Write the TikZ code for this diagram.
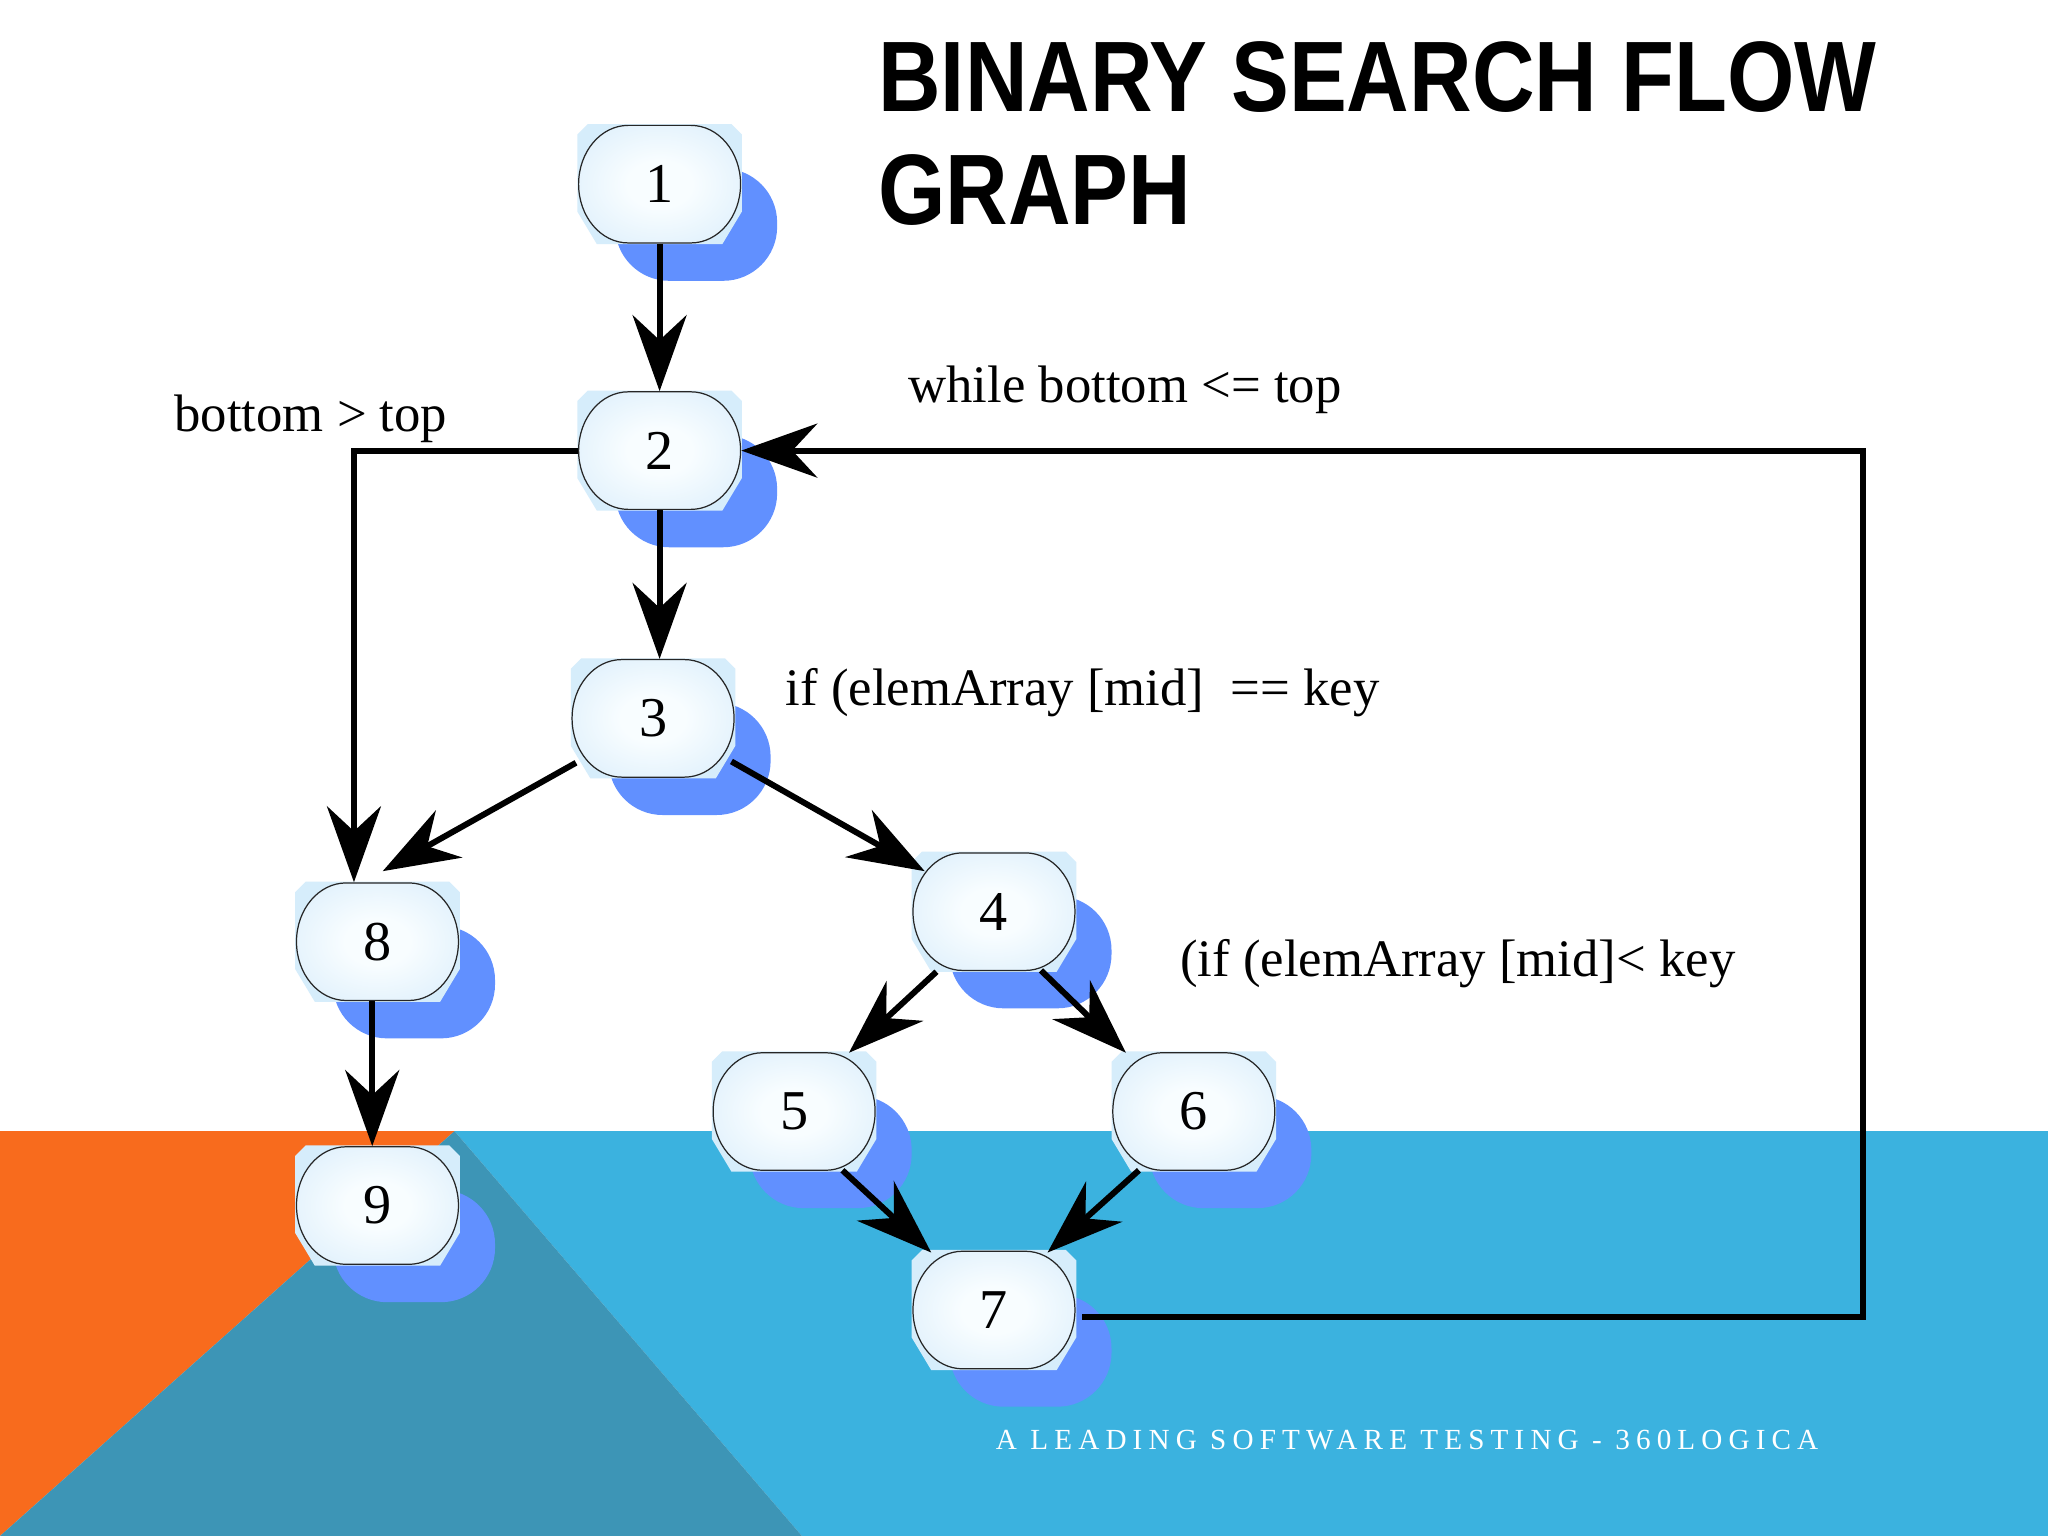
\documentclass[tikz,border=0pt]{standalone}
\usepackage{fontspec}
\setmainfont{Liberation Serif}
\setsansfont{Liberation Sans}
\usetikzlibrary{arrows.meta,calc}
\definecolor{bgorange}{HTML}{F86B1D}
\definecolor{bgblue}{HTML}{3BB2DF}
\definecolor{bgteal}{HTML}{3D95B6}
\definecolor{shadowblue}{HTML}{6190FF}
\definecolor{palebox}{HTML}{D6EDFB}
\definecolor{nodein}{HTML}{F8FDFF}
\definecolor{nodeout}{HTML}{CCE6F9}
\pgfdeclareradialshading{nodeshade}{\pgfpoint{0bp}{0bp}}{color(0bp)=(nodein); color(10bp)=(nodein); color(48bp)=(nodeout); color(70bp)=(nodeout)}
\def\nodeoutline{(-24,-45) -- (24,-45) arc[start angle=-90,end angle=0,x radius=38,y radius=45] arc[start angle=0,end angle=90,x radius=38,y radius=45] -- (-24,45) arc[start angle=90,end angle=180,x radius=38,y radius=45] arc[start angle=180,end angle=270,x radius=38,y radius=45] -- cycle}
\newcommand\flownode[3]{%
  \begin{scope}[shift={(#2)}]
    \fill[shadowblue, rounded corners=0.54cm] (-34,-12) rectangle (90,74);
    \fill[palebox] (-55,-46) -- (55,-46) -- (63,-38) -- (63,21) -- (48,46) -- (-48,46) -- (-63,21) -- (-63,-38) -- cycle;
    \shade[shading=nodeshade] \nodeoutline;
    \draw[black!85, line width=0.35pt] \nodeoutline;
  \end{scope}
  \node[nodebox] (#1) at (#2) {#3};
}
\tikzset{
  nodebox/.style={shape=rectangle, minimum width=1.62cm, minimum height=1.175cm, inner sep=0pt, font=\fontsize{16}{18}\selectfont},
  flowarrow/.style={line width=1.7pt, -{Stealth[length=0.76cm,width=0.54cm,inset=0.25cm]}},
  lbl/.style={anchor=base west, inner sep=0pt, font=\fontsize{15}{18}\selectfont},
  titletext/.style={anchor=base west, inner sep=0pt, font=\sffamily\bfseries\fontsize{28.5}{32}\selectfont}
}
\begin{document}
\begin{tikzpicture}[x=0.013061cm,y=-0.013061cm]
\useasboundingbox (0,0) rectangle (1568,1176);
% background
\fill[white] (0,0) rectangle (1568,1176);
\fill[bgblue] (348,866) -- (1568,866) -- (1568,1176) -- (614,1176) -- cycle;
\fill[bgorange] (0,866) -- (348,866) -- (0,1176) -- cycle;
\fill[bgteal] (348,866) -- (614,1176) -- (0,1176) -- cycle;
% title
\node[titletext] (title1) at (672,85) {\scalebox{0.865}[1]{BINARY SEARCH FLOW}};
\node[titletext] (title2) at (672,172) {\scalebox{0.865}[1]{GRAPH}};
% nodes
\flownode{n1}{505,141}{1}
\flownode{n2}{505,345}{2}
\flownode{n3}{500,550}{3}
\flownode{n4}{761,698}{4}
\flownode{n5}{608,851}{5}
\flownode{n6}{914,851}{6}
\flownode{n7}{761,1003}{7}
\flownode{n8}{289,721}{8}
\flownode{n9}{289,923}{9}
% edges
\draw[flowarrow] (n1.south) -- (n2.north);
\draw[flowarrow] (n2.south) -- (n2.south |- n3.north);
\draw[flowarrow] (n2.west) -| ($(n8.north)+(-18,0)$);
\draw[flowarrow] ($(n3)+(-59,34)$) -- ($(n8)+(4,-54)$);
\draw[flowarrow] ($(n3)+(60,33)$) -- ($(n4)+(-53,-31)$);
\draw[flowarrow] ($(n4)+(-44,46)$) -- ($(n5)+(42,-45)$);
\draw[flowarrow] ($(n4)+(36,45)$) -- ($(n6)+(-52,-45)$);
\draw[flowarrow] ($(n5)+(37,45)$) -- ($(n7)+(-48,-44)$);
\draw[flowarrow] ($(n6)+(-42,45)$) -- ($(n7)+(41,-44)$);
\draw[flowarrow] ($(n8.south)+(-4,0)$) -- ($(n9.north)+(-4,0)$);
\draw[flowarrow] ($(n7.east)+(5,5)$) -- ++(598,0) |- (n2.east);
% labels
\node[lbl] (lb1) at (133,330) {bottom > top};
\node[lbl] (lb2) at (695,308) {while bottom <= top};
\node[lbl] (lb3) at (601,540) {if (elemArray [mid]\ \ == key};
\node[lbl] (lb4) at (903,748) {(if (elemArray [mid]< key};
% footer
\node[anchor=base west, inner sep=0pt, text=white, font=\fontsize{8.3}{10}\selectfont\addfontfeatures{LetterSpace=21}] (footer) at (762,1110) {A LEADING SOFTWARE TESTING - 360LOGICA};
\end{tikzpicture}
\end{document}
